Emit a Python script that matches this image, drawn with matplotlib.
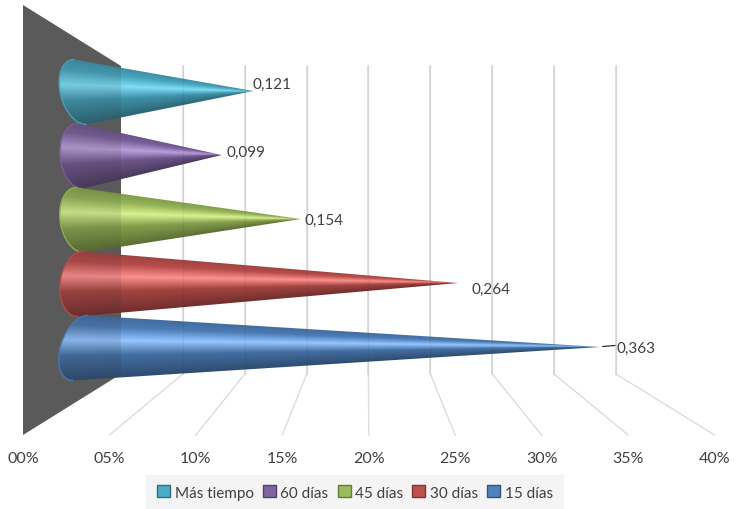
#!/usr/bin/env python
# coding: utf-8
import numpy as np
import matplotlib
matplotlib.use("Agg")
import matplotlib.pyplot as plt
from matplotlib.patches import Patch, Polygon
from matplotlib.colors import to_rgb

plt.rcParams['font.family'] = ['Lato', 'DejaVu Sans']

# Data, top to bottom as in the chart
categories = ["Más tiempo", "60 días", "45 días", "30 días", "15 días"]
values = [0.121, 0.099, 0.154, 0.264, 0.363]
value_labels = ["0,121", "0,099", "0,154", "0,264", "0,363"]
axis_ticks = [0.00, 0.05, 0.10, 0.15, 0.20, 0.25, 0.30, 0.35, 0.40]
tick_labels = ["00%", "05%", "10%", "15%", "20%", "25%", "30%", "35%", "40%"]

# Colours per series: base, highlight
base_colors = ["#4BACC6", "#8064A2", "#9BBB59", "#C0504D", "#4F81BD"]
light_colors = ["#80DDF6", "#B9A0DA", "#D8F292", "#FC918E", "#95C6FF"]
shears = [6, 2.5, 3.5, -2.5, -7.5]
label_dx = [-1, 5, 4, 13, 17]
label_dy = [-8, -4, 0, 5, 0]

TEXT = "#404040"
GRID = "#DCDCDC"


# Projection of the fake 3D chart, everything in picture pixels
def front_x(v):
    return 23 + v / 0.40 * 691.5


def back_x(v):
    return 121 + v / 0.40 * 495


def tip_x(v):
    return 80 + 1432 * v


def shade(base, light, u):
    # u goes 0 (top of the cone) to 1 (bottom), returns an rgb array
    base = np.array(to_rgb(base))
    light = np.array(to_rgb(light))
    stops = [0.0, 0.18, 0.40, 0.64, 1.0]
    cols = [base * 0.82, base * 0.95, light, base * 0.85, base * 0.60]
    return np.dstack([np.interp(u, stops, [c[i] for c in cols]) for i in range(3)])


fig = plt.figure(figsize=(7.48, 5.10), dpi=100)
ax = fig.add_axes([0, 0, 1, 1])

# Wall
wall = [(23, 6), (121, 67), (121, 375), (23, 436)]
ax.add_patch(Polygon(wall, closed=True, facecolor="#606060", edgecolor="none", zorder=1))

# Grid on the back wall and the floor
for v, lab in zip(axis_ticks, tick_labels):
    if v > 0:
        ax.plot([back_x(v), back_x(v)], [67, 375], color=GRID, lw=1.2, zorder=2)
        ax.plot([back_x(v), front_x(v)], [375, 436], color=GRID, lw=1.0, zorder=2)
    ax.text(front_x(v), 459, lab, ha="center", va="center", fontsize=11.5, color=TEXT)

# Cones: a gradient image clipped to the cone outline
for i, val in enumerate(values):
    cy = 93 + 64 * i
    r = 32.5
    a = 20
    cx = 80
    s = shears[i]
    t = np.linspace(-np.pi / 2, np.pi / 2, 161)
    ex = cx - a * np.cos(t) + s * np.sin(t)
    ey = cy + r * np.sin(t)
    tipx, tipy = tip_x(val), cy - 1
    z = 3 + i * 0.1

    x0, x1 = ex.min() - 1, tipx + 1
    y0, y1 = ey.min() - 1, ey.max() + 1
    gx, gy = np.meshgrid(np.linspace(x0, x1, int(x1 - x0) * 3), np.linspace(y0, y1, int(y1 - y0) * 3))
    # local half height of the cone at every column
    half = np.maximum(r * (tipx - gx) / (tipx - cx), 0.01)
    u = np.clip(0.5 + (gy - tipy) / (2 * half), 0, 1)
    img = ax.imshow(shade(base_colors[i], light_colors[i], u), extent=(x0, x1, y1, y0),
                    interpolation="bilinear", aspect="auto", zorder=z)
    outline = Polygon([(tipx, tipy)] + list(zip(ex, ey)), closed=True, facecolor="none",
                      edgecolor="none", transform=ax.transData)
    ax.add_patch(outline)
    img.set_clip_path(outline)
    ax.plot(ex, ey, color=base_colors[i], lw=1.0, zorder=z + 0.05)
    # Value label
    ax.text(tipx + label_dx[i], cy + label_dy[i], value_labels[i], ha="left", va="center",
            fontsize=11, color=TEXT, zorder=6)

# Wall and grid seen through the cones
ax.add_patch(Polygon(wall, closed=True, facecolor="#303030", edgecolor="none", alpha=0.11, zorder=4))
for v in axis_ticks[1:]:
    ax.plot([back_x(v), back_x(v)], [67, 375], color="#303030", lw=1.0, alpha=0.07, zorder=4)

# Leader line for the last label
ax.plot([tip_x(values[4]) + 3, tip_x(values[4]) + 15], [347.5, 346.5], color="#303030", lw=0.9, zorder=5)

# Legend
handles = [Patch(facecolor=c, edgecolor=tuple(np.array(to_rgb(c)) * 0.65), linewidth=1.0) for c in base_colors]
ax.legend(handles, categories, loc="center", bbox_to_anchor=(355, 493.5),
          bbox_transform=ax.transData, ncol=5, frameon=True, fancybox=False,
          facecolor="#F4F4F4", edgecolor="none", framealpha=1.0, fontsize=11,
          labelcolor=TEXT, handlelength=0.85, handleheight=0.85, handletextpad=0.3,
          columnspacing=0.6, borderpad=0.7, borderaxespad=0)

ax.set_xlim(0, 748)
ax.set_ylim(510, 0)
ax.axis("off")

fig.savefig("out.png", dpi=100)
